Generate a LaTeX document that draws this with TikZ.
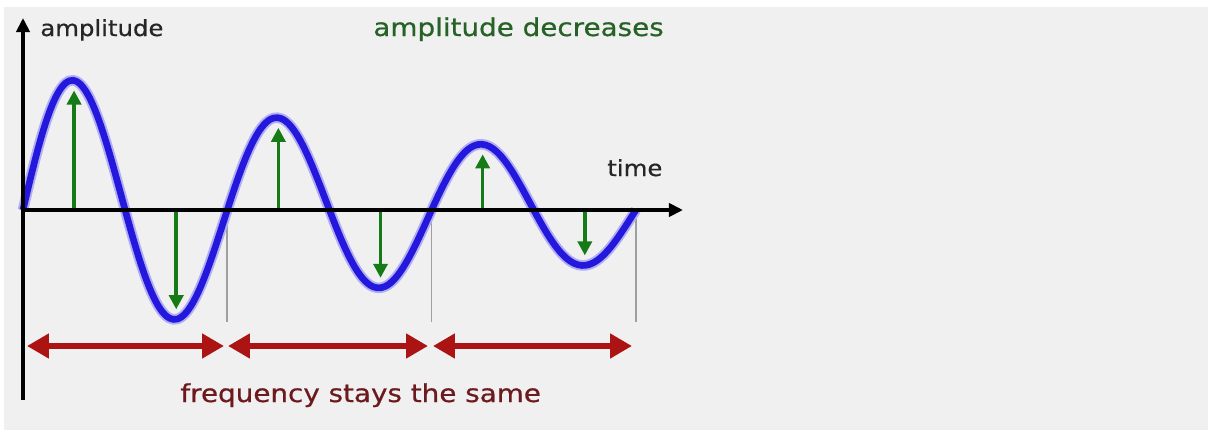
\documentclass[tikz,border=0pt]{standalone}
\usepackage{fontspec}
\setsansfont{DejaVu Sans}
\newfontfamily\labelfont[FakeBold=0.6]{DejaVu Sans}
\usepackage{tikz}
\usetikzlibrary{arrows.meta}
\definecolor{WaveBlue}{RGB}{36,24,220}
\definecolor{AmpGreen}{RGB}{22,122,22}
\definecolor{AmpText}{RGB}{38,98,38}
\definecolor{FreqRed}{RGB}{172,20,20}
\definecolor{FreqText}{RGB}{108,26,30}
\definecolor{PanelGray}{RGB}{240,240,240}
\tikzset{
  axisline/.style={line width=2.2pt,-{Triangle[length=8pt,width=7.5pt]}},
  amparrow/.style={AmpGreen,line width=2pt,-{Triangle[length=8pt,width=8pt]}},
  freqarrow/.style={FreqRed,line width=3.5pt,{Triangle[length=12.5pt,width=13.5pt]}-{Triangle[length=12.5pt,width=13.5pt]}},
  marker/.style={gray!75,line width=1pt},
  axislabel/.style={font=\labelfont\fontsize{12.6}{15}\selectfont,text=black!85,inner sep=0pt,anchor=base west,xscale=1.1,transform shape},
  notelabel/.style={font=\labelfont\fontsize{14}{16}\selectfont,inner sep=0pt,anchor=base west,xscale=1.13,transform shape}
}

\begin{document}
\begin{tikzpicture}[x=0.02cm,y=0.02cm]
\useasboundingbox[fill=white] (-23,210) rectangle (1185,-220);
\fill[PanelGray] (-19,203) rectangle (1185,-220);
% period markers
\foreach \t in {1,2,3}
  \draw[marker] (204.3*\t,0) -- (204.3*\t,-112);
% decaying wave
\draw[WaveBlue!35,line width=6pt] plot[domain=0:613,samples=160,smooth]
  (\x,{141*exp(-0.00166*\x)*sin(\x/204.3*360)});
\draw[WaveBlue,line width=3.8pt] plot[domain=0:613,samples=160,smooth]
  (\x,{141*exp(-0.00166*\x)*sin(\x/204.3*360)});
% amplitude arrows
\foreach \k in {0,...,5}{
  \pgfmathsetmacro{\px}{204.3*(\k+0.5)/2}
  \pgfmathsetmacro{\amp}{(141*exp(-0.00166*\px)-10)*cos(180*\k)}
  \coordinate (base\k) at (\px,0);
  \coordinate (peak\k) at (\px,\amp);
  \draw[amparrow] (base\k) -- (peak\k);
}
% axes
\coordinate (origin) at (0,0);
\coordinate (ytop) at (0,192);
\coordinate (ybot) at (0,-190);
\coordinate (xend) at (660,0);
\draw[axisline] (ybot) -- (ytop);
\draw[axisline] (origin) -- (xend);
\node[axislabel] (amplab) at (17,174) {amplitude};
\node[axislabel] (timelab) at (584,34) {time};
% frequency arrows
\coordinate (f0) at (4,-136);
\coordinate (f1a) at (201,-136);
\coordinate (f1b) at (205,-136);
\coordinate (f2a) at (405,-136);
\coordinate (f2b) at (410,-136);
\coordinate (f3) at (609,-136);
\draw[freqarrow] (f0) -- (f1a);
\draw[freqarrow] (f1b) -- (f2a);
\draw[freqarrow] (f2b) -- (f3);
\node[notelabel,text=AmpText] (decr) at (350,174) {amplitude decreases};
\node[notelabel,text=FreqText] (same) at (157,-192) {frequency stays the same};
\end{tikzpicture}
\end{document}
